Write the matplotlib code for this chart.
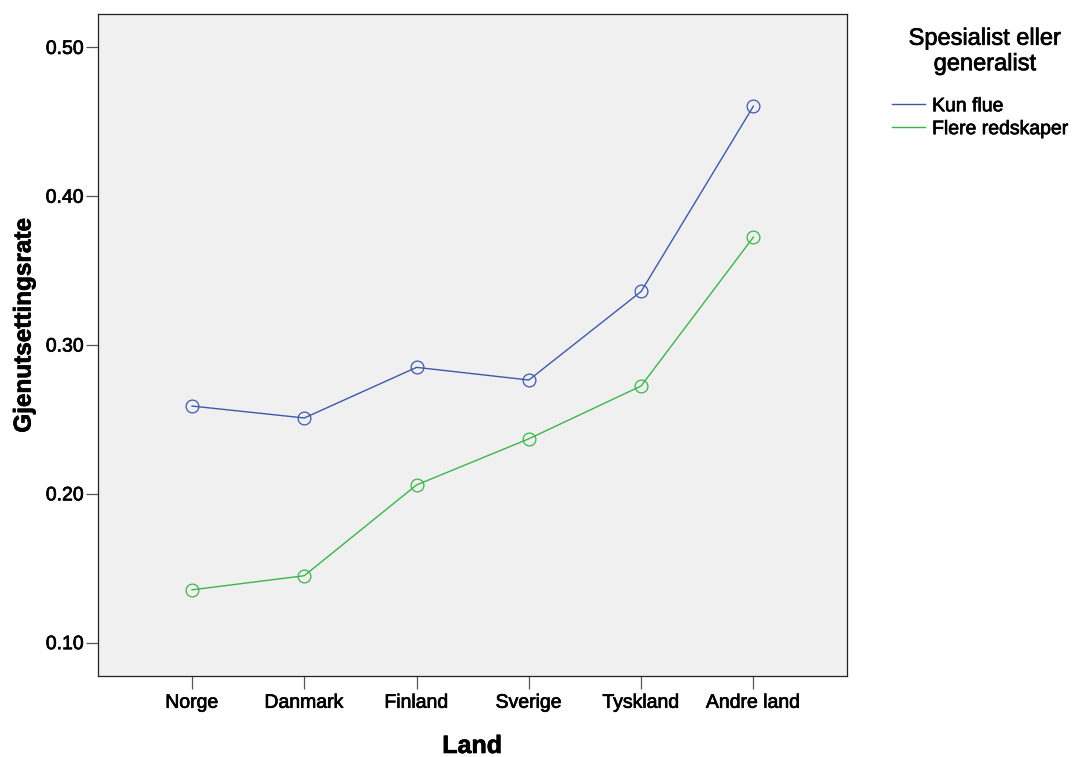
import matplotlib
matplotlib.use("Agg")
import matplotlib.pyplot as plt
import matplotlib.patheffects as pe
from matplotlib.ticker import FormatStrFormatter

plt.rcParams['font.family'] = ['Liberation Sans', 'DejaVu Sans']

# data
land = ['Norge', 'Danmark', 'Finland', 'Sverige', 'Tyskland', 'Andre land']
kun_flue = [0.259, 0.251, 0.285, 0.2765, 0.336, 0.4605]
flere_redskaper = [0.1355, 0.145, 0.206, 0.237, 0.2725, 0.3725]
yticks = [0.10, 0.20, 0.30, 0.40, 0.50]

blue = '#3E58AC'
green = '#3BB54A'
heavy = [pe.withStroke(linewidth=0.5, foreground='black')]

fig = plt.figure(figsize=(10.76, 7.57), dpi=100)
ax = fig.add_axes([0.0908, 0.107, 0.696, 0.874])
ax.set_facecolor('#F0F0F0')

x = list(range(len(land)))
ax.plot(x, kun_flue, color=blue, lw=1.0, marker='o', ms=9.2,
        mfc='none', mec=blue, mew=0.9, label='Kun flue')
ax.plot(x, flere_redskaper, color=green, lw=1.0, marker='o', ms=9.2,
        mfc='none', mec=green, mew=0.9, label='Flere redskaper')

ax.set_xlim(-0.84, 5.83)
ax.set_ylim(0.0776, 0.5222)
ax.set_xticks(x)
ax.set_xticklabels(land)
ax.set_yticks(yticks)
ax.yaxis.set_major_formatter(FormatStrFormatter('%.2f'))

ax.tick_params(axis='x', direction='out', length=9.5, width=0.9, color='#555555',
               labelsize=14, pad=4)
ax.tick_params(axis='y', direction='out', length=8.5, width=0.9, color='#555555',
               labelsize=14, pad=1.5)
for t in ax.get_xticklabels() + ax.get_yticklabels():
    t.set_path_effects(heavy)
for s in ax.spines.values():
    s.set_linewidth(0.9)
    s.set_color('#222222')

ax.set_xlabel('Land', fontsize=18, fontweight='bold', labelpad=16,
              path_effects=heavy)
ax.set_ylabel('Gjenutsettingsrate', fontsize=17.5, fontweight='bold',
              path_effects=heavy)
ax.yaxis.set_label_coords(-0.083, 0.53)

# legend: title as separate centred text, entries below
fig.text(0.9155, 0.932, 'Spesialist eller\ngeneralist', fontsize=17,
         ha='center', va='center', multialignment='center',
         linespacing=1.2, path_effects=heavy)
leg = ax.legend(loc='upper left', bbox_to_anchor=(0.829, 0.871),
                bbox_transform=fig.transFigure, frameon=False, borderpad=0,
                borderaxespad=0, fontsize=14, handlelength=1.7,
                handletextpad=0.36, labelspacing=0.27)
for h in leg.legend_handles:
    h.set_marker('')
for t in leg.get_texts():
    t.set_path_effects(heavy)

fig.savefig('out.png', dpi=100)
